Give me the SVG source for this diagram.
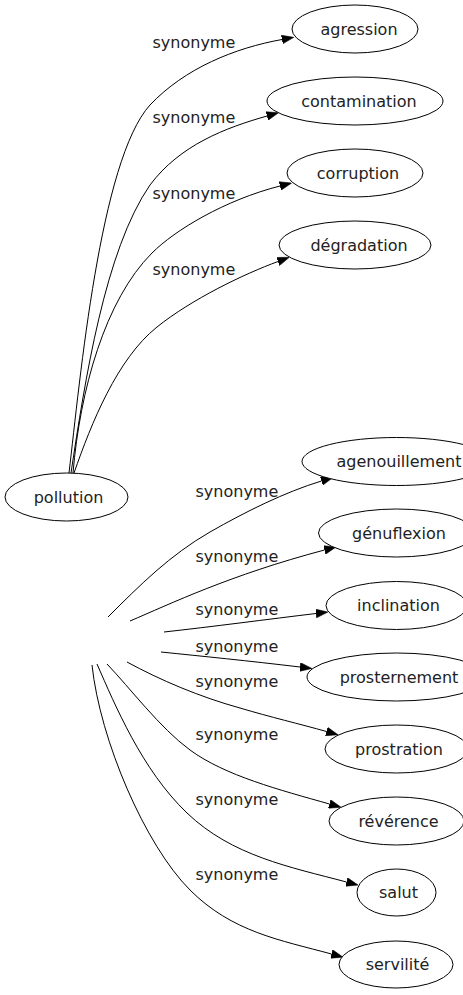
<svg xmlns="http://www.w3.org/2000/svg" width="463" height="995" viewBox="0 0 463 995">
<style>
.node ellipse{fill:#fff;stroke:#000;stroke-width:1}
.node text{font-family:"DejaVu Sans",Verdana,sans-serif;font-size:16px;text-anchor:middle;fill:#222}
.edges path{fill:none;stroke:#000;stroke-width:1;marker-end:url(#arrow)}
.edges text{font-family:"DejaVu Sans",Verdana,sans-serif;font-size:16px;fill:#222}
</style>
<defs>
<marker id="arrow" markerUnits="userSpaceOnUse" markerWidth="12" markerHeight="9" viewBox="0 0 11 8" refX="0" refY="4" orient="auto">
<path d="M0,0 L11,4 L0,8 z" fill="#000" stroke="#000" stroke-width="0.5"/>
</marker>
</defs>
<rect width="463" height="995" fill="#fff"/>
<g id="connectors" class="edges">
<path d="M69,473 C80,380 100,160 150,105 C185,68 235,48 282,39.5"/>
<text x="152.5" y="48">synonyme</text>
<path d="M71,473 C85,380 105,250 150,185 C180,145 225,128 267,116"/>
<text x="152.5" y="123">synonyme</text>
<path d="M73,473 C80,390 105,300 152,253 C175,230 225,200 280,186"/>
<text x="152.5" y="199">synonyme</text>
<path d="M74,473 C91.5,423 117,359 157,327 C192,299 244,274 278,261.5"/>
<text x="152.5" y="275">synonyme</text>
<path d="M108,617 C140,585 170,555 210,532 C245,512 285,492 321.5,481"/>
<text x="195.5" y="497">synonyme</text>
<path d="M130,621 C170,604 230,575 324.5,550"/>
<text x="195.5" y="562">synonyme</text>
<path d="M164,632 C210,627 270,619 316,613.5"/>
<text x="195.5" y="615">synonyme</text>
<path d="M161,652 C200,656 250,661 300,667"/>
<text x="195.5" y="652">synonyme</text>
<path d="M127,662 C160,680 200,697 240,708 C270,717 300,724 326.5,731.5"/>
<text x="195.5" y="687">synonyme</text>
<path d="M107,664 C130,688 160,728 190,750 C225,775.7 280,790 329.5,804"/>
<text x="195.5" y="740">synonyme</text>
<path d="M97,664 C115,705 142,770 187,813 C232,856 290,867 346.5,882"/>
<text x="195.5" y="805">synonyme</text>
<path d="M92,665 C100,740 145,845 190,890 C232,932 280,940 331.5,954"/>
<text x="195.5" y="880">synonyme</text>
</g>
<g id="node-pollution" class="node"><ellipse cx="66.5" cy="497" rx="61.5" ry="24"/><text x="68.5" y="502.5">pollution</text></g>
<g id="node-agression" class="node"><ellipse cx="355" cy="29" rx="63" ry="24"/><text x="359" y="34.5">agression</text></g>
<g id="node-contamination" class="node"><ellipse cx="355" cy="101" rx="88" ry="24"/><text x="359" y="106.5">contamination</text></g>
<g id="node-corruption" class="node"><ellipse cx="355" cy="173" rx="68" ry="24"/><text x="358" y="178.5">corruption</text></g>
<g id="node-degradation" class="node"><ellipse cx="355" cy="245" rx="76" ry="24"/><text x="359" y="250.5">dégradation</text></g>
<g id="node-agenouillement" class="node"><ellipse cx="396.5" cy="461.5" rx="94.5" ry="24"/><text x="399" y="467">agenouillement</text></g>
<g id="node-genuflexion" class="node"><ellipse cx="396.5" cy="533" rx="78" ry="24"/><text x="399" y="538.5">génuflexion</text></g>
<g id="node-inclination" class="node"><ellipse cx="396.5" cy="605.5" rx="70.5" ry="24"/><text x="398.5" y="611">inclination</text></g>
<g id="node-prosternement" class="node"><ellipse cx="396.5" cy="677" rx="89.5" ry="24"/><text x="399" y="682.5">prosternement</text></g>
<g id="node-prostration" class="node"><ellipse cx="396.5" cy="749" rx="71.5" ry="24"/><text x="399" y="754.5">prostration</text></g>
<g id="node-reverence" class="node"><ellipse cx="396.5" cy="821" rx="67.5" ry="24"/><text x="398.5" y="826.5">révérence</text></g>
<g id="node-salut" class="node"><ellipse cx="396.5" cy="892.5" rx="39.5" ry="23.5"/><text x="398.5" y="898">salut</text></g>
<g id="node-servilite" class="node"><ellipse cx="396" cy="964.5" rx="57" ry="23.5"/><text x="397.5" y="970">servilité</text></g>
</svg>
